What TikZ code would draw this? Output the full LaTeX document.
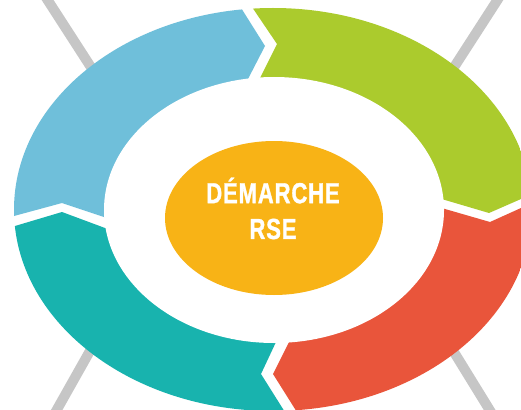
\documentclass[tikz,border=0pt]{standalone}
\usepackage{fontspec}
\setmainfont{Liberation Sans}
\newfontfamily\lblfont{Liberation Sans}[BoldFeatures={FakeBold=1.2,FakeStretch=0.76,LetterSpace=3}]
\definecolor{cblue}{HTML}{6FBFDA}
\definecolor{cgreen}{HTML}{ABCB2D}
\definecolor{cred}{HTML}{E9553B}
\definecolor{cteal}{HTML}{18B3AE}
\definecolor{corange}{HTML}{F8B316}
\definecolor{cgray}{HTML}{C6C6C6}
\tikzset{spoke/.style={draw=cgray,line width=10pt},
 lbl/.style={text=white,font=\lblfont\bfseries\fontsize{29}{30}\selectfont,inner sep=0pt}}
\begin{document}
\begin{tikzpicture}[x=1pt,y=-1pt]
\useasboundingbox (0,0) rectangle (521,409);
\fill[white] (0,0) rectangle (521,409);
\begin{scope}
\clip (0,0) rectangle (521,409);
\draw[spoke] (45,-4) -- (96,75);
\draw[spoke] (500,-4) -- (449,75);
\draw[spoke] (95,342) -- (55,413);
\draw[spoke] (449,344) -- (491.5,413);
\end{scope}
\begin{scope}
\clip (0,0) rectangle (521,409);
\clip (273,209.5) ellipse [x radius=259,y radius=201.5];
\fill[cblue] (236,0) -- (243,11) -- (265,46) -- (248,79) -- (240,95) -- (273,210) -- (120,222) -- (104,217) -- (62,203) -- (14,216) -- (-5,221) -- (-5,0) -- cycle;
\fill[cgreen] (247,0) -- (254,10) -- (277,44) -- (260,78) -- (252,95) -- (273,210) -- (430,196) -- (445,200) -- (489,213) -- (521,199) -- (540,191) -- (540,0) -- cycle;
\fill[cred] (300,320) -- (289,342) -- (273,374) -- (295,409) -- (301,420) -- (540,420) -- (540,200) -- (521,208) -- (490,222) -- (445,209) -- (430,205) -- (273,210) -- cycle;
\fill[cteal] (287,320) -- (276,342) -- (261,374) -- (283,409) -- (290,420) -- (-5,420) -- (-5,231) -- (15,226) -- (62,212) -- (105,228) -- (120,233) -- (273,210) -- cycle;
\end{scope}
\fill[white] (274,210) ellipse [x radius=170,y radius=133];
\fill[corange] (274,218) ellipse [x radius=109,y radius=77];
\node[lbl] (t1) at (273,190.5) {DÉMARCHE};
\node[lbl] (t2) at (273,229) {RSE};
\end{tikzpicture}
\end{document}
